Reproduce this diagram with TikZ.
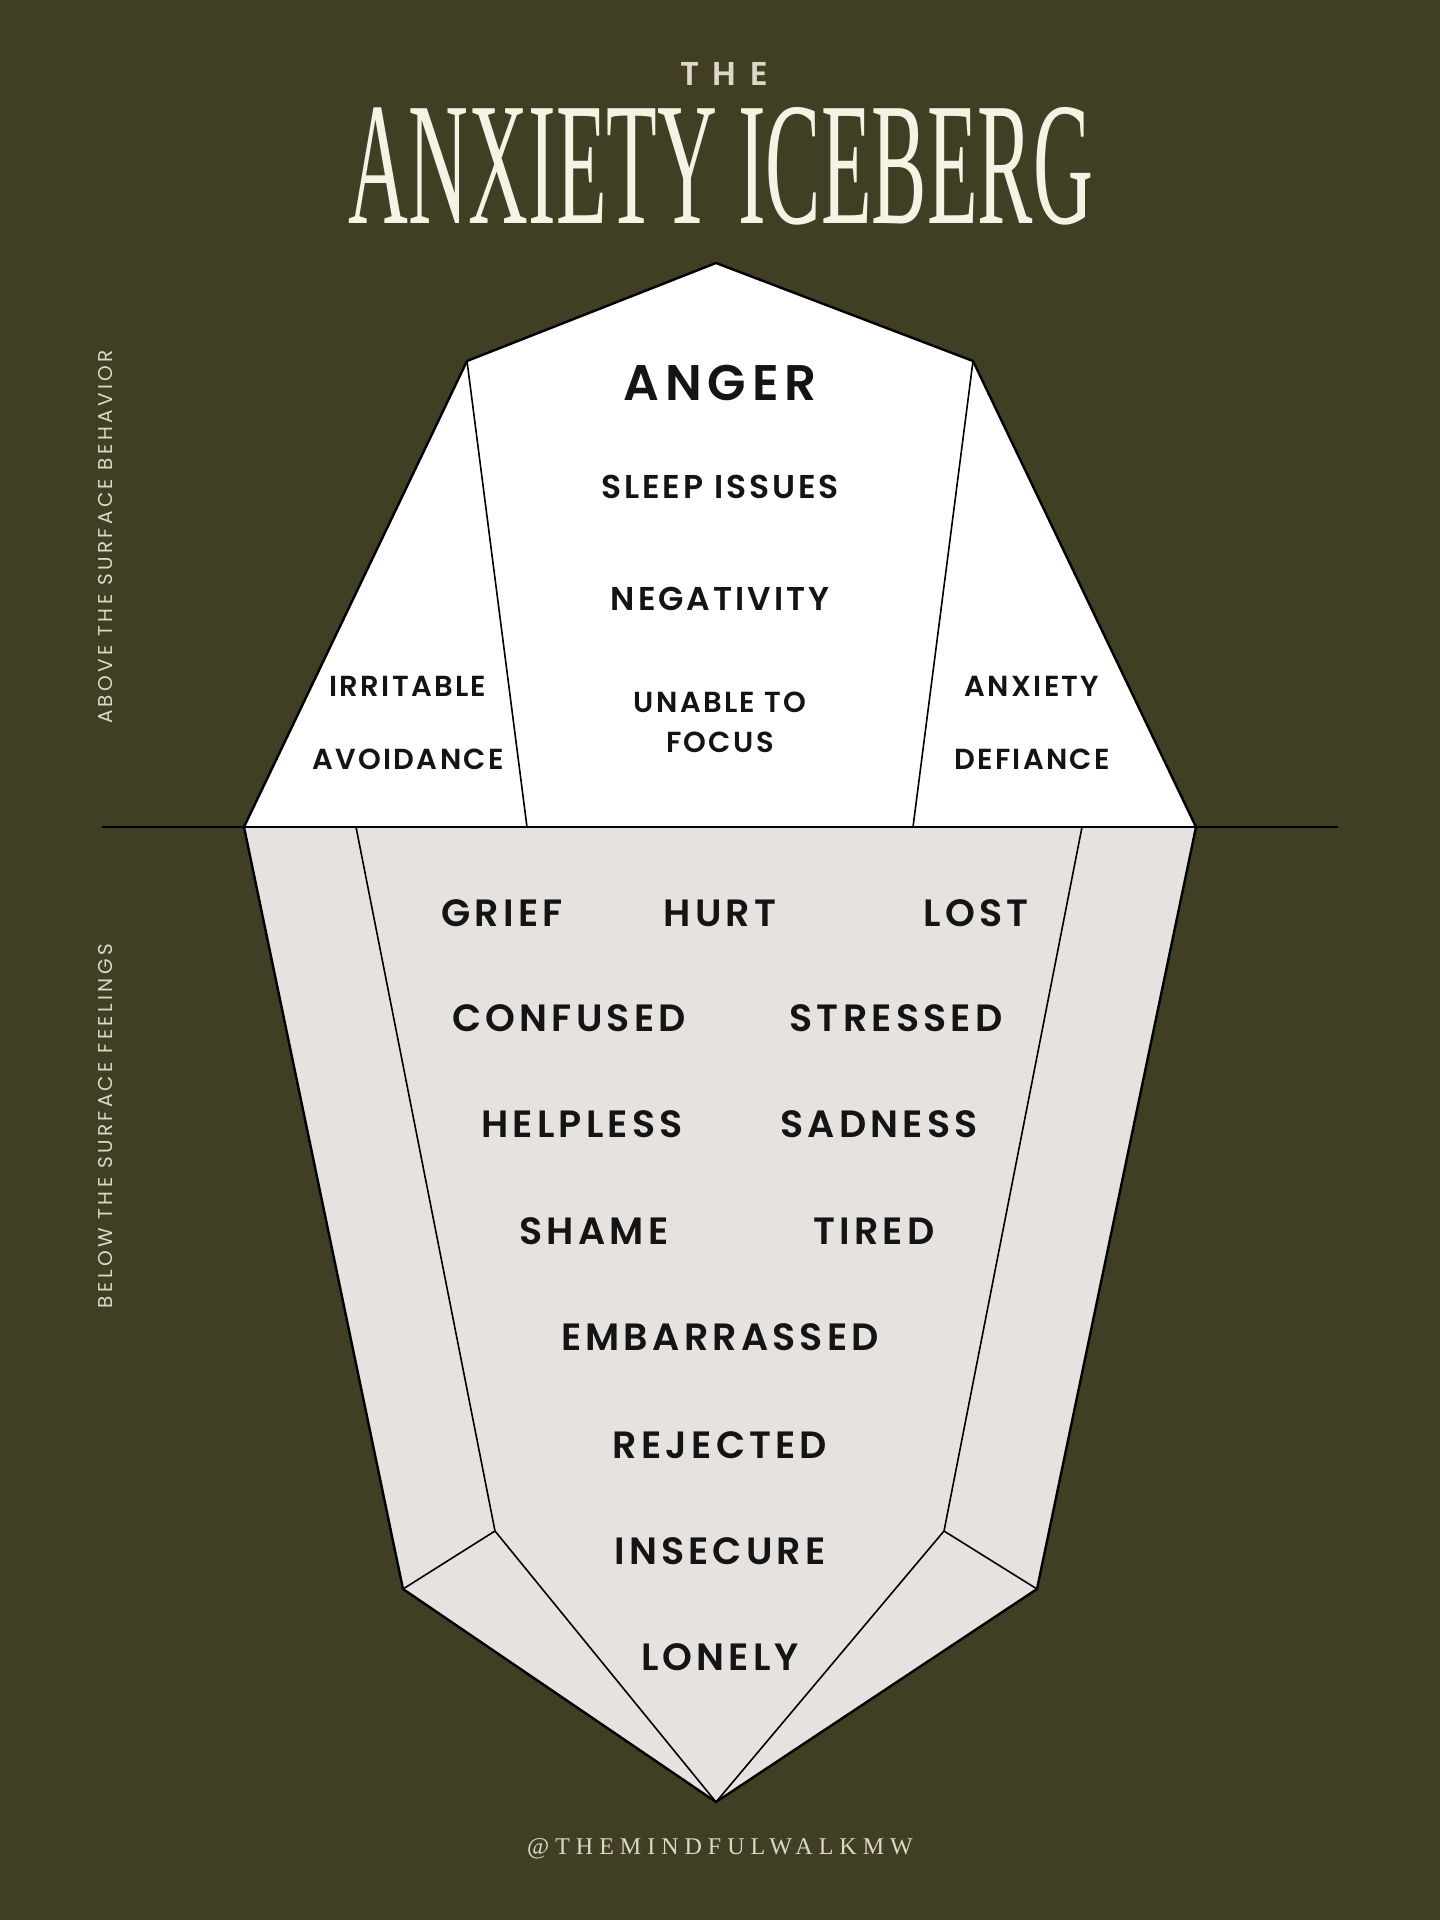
\documentclass[tikz,border=0pt]{standalone}
\usepackage{fontspec}
\setmainfont{Poppins}[BoldFont={Poppins SemiBold}]
\newfontfamily\titlefont{Liberation Serif}
\newfontfamily\sidefont{Poppins}[LetterSpace=17]
\newfontfamily\handlefont{Liberation Serif}[LetterSpace=25]
\newfontfamily\thefont{Poppins SemiBold}[LetterSpace=42]
\newfontfamily\lowfont{Poppins SemiBold}[LetterSpace=11]
\newfontfamily\upfont{Poppins SemiBold}[LetterSpace=9]
\newfontfamily\sidebfont{Poppins SemiBold}[LetterSpace=8]
\newfontfamily\angerfont{Poppins SemiBold}[LetterSpace=12]
\definecolor{bg}{HTML}{403E23}
\definecolor{cream}{HTML}{F6F2E4}
\definecolor{beige}{HTML}{DDD9C8}
\definecolor{lowfill}{HTML}{E5E2DF}
\definecolor{ink}{HTML}{141414}
\tikzset{
  lab/.style={inner sep=0pt, text=ink, font=\lowfont\fontsize{38}{46}\selectfont},
  up/.style={inner sep=0pt, text=ink, font=\upfont\fontsize{33}{38}\selectfont},
  side/.style={inner sep=0pt, text=ink, font=\sidebfont\fontsize{29}{40}\selectfont},
  outline/.style={draw=black, line width=2.4pt, line join=miter},
  inner/.style={draw=black, line width=1.6pt},
  vlab/.style={inner sep=0pt, text=beige, rotate=90, font=\sidefont\fontsize{20}{24}\selectfont},
}
\begin{document}
\begin{tikzpicture}[x=1pt,y=-1pt]
\fill[bg] (0,0) rectangle (1440,1920);
\useasboundingbox (0,0) rectangle (1440,1920);
% coordinates
\coordinate (peak) at (716,263);
\coordinate (tl) at (467,361);
\coordinate (tr) at (973,361);
\coordinate (wl) at (244,827);
\coordinate (wr) at (1196,827);
\coordinate (cl) at (527,827);
\coordinate (cr) at (913,827);
\coordinate (il) at (356,827);
\coordinate (ir) at (1082,827);
\coordinate (ilb) at (495,1531);
\coordinate (irb) at (944,1531);
\coordinate (olb) at (403,1589);
\coordinate (orb) at (1037,1589);
\coordinate (bot) at (716,1802);
\coordinate (lineL) at (102,827);
\coordinate (lineR) at (1338,827);
% lower part
\fill[lowfill] (wl) -- (olb) -- (bot) -- (orb) -- (wr) -- cycle;
\draw[inner] (il) -- (ilb) -- (bot);
\draw[inner] (ilb) -- (olb);
\draw[inner] (ir) -- (irb) -- (bot);
\draw[inner] (irb) -- (orb);
\draw[outline] (wl) -- (olb) -- (bot) -- (orb) -- (wr);
% upper part
\fill[white] (peak) -- (tr) -- (wr) -- (wl) -- (tl) -- cycle;
\draw[inner] (tl) -- (cl);
\draw[inner] (tr) -- (cr);
\draw[outline] (wl) -- (tl) -- (peak) -- (tr) -- (wr);
% waterline
\draw[black, line width=2.2pt] (lineL) -- (lineR);
% titles
\node[inner sep=0pt, text=beige, font=\thefont\fontsize{33}{36}\selectfont] (the) at (724,74) {THE};
\node[inner sep=0pt, text=cream] (title) at (721,166) {\resizebox{744pt}{116pt}{\titlefont ANXIETY ICEBERG}};
% upper labels
\node[inner sep=0pt, text=ink, font=\angerfont\fontsize{50}{56}\selectfont] (anger) at (720,383) {ANGER};
\node[up] (sleep) at (720,487) {SLEEP ISSUES};
\node[up] (neg) at (720,599) {NEGATIVITY};
\node[side, align=center] (focus) at (720,722) {UNABLE TO\\FOCUS};
\node[side] (irr) at (408,686) {IRRITABLE};
\node[side] (avoid) at (408,759) {AVOIDANCE};
\node[side] (anx) at (1032,686) {ANXIETY};
\node[side] (def) at (1032,759) {DEFIANCE};
% lower labels
\node[lab] (grief) at (502,913) {GRIEF};
\node[lab] (hurt) at (720,913) {HURT};
\node[lab] (lost) at (976,913) {LOST};
\node[lab] (confused) at (569,1018) {CONFUSED};
\node[lab] (stressed) at (896,1018) {STRESSED};
\node[lab] (helpless) at (582,1124) {HELPLESS};
\node[lab] (sadness) at (879,1124) {SADNESS};
\node[lab] (shame) at (594,1231) {SHAME};
\node[lab] (tired) at (874,1231) {TIRED};
\node[lab] (emb) at (720,1337) {EMBARRASSED};
\node[lab] (rej) at (720,1445) {REJECTED};
\node[lab] (insec) at (720,1551) {INSECURE};
\node[lab] (lonely) at (720,1657) {LONELY};
% side labels
\node[vlab] (above) at (106,537) {ABOVE THE SURFACE BEHAVIOR};
\node[vlab] (below) at (106,1126) {BELOW THE SURFACE FEELINGS};
% handle
\node[inner sep=0pt, text=beige, font=\handlefont\fontsize{24}{28}\selectfont] (handle) at (720,1849) {@THEMINDFULWALKMW};
\end{tikzpicture}
\end{document}
